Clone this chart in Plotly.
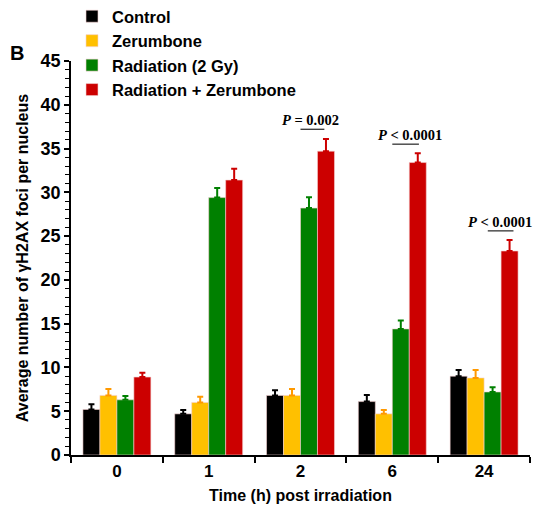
import plotly.graph_objects as go

categories = ["0", "1", "2", "6", "24"]
series_names = ["Control", "Zerumbone", "Radiation (2 Gy)", "Radiation + Zerumbone"]
control = [5.2, 4.7, 6.8, 6.1, 9.0]
control_err = [0.6, 0.45, 0.6, 0.75, 0.7]
zerumbone = [6.8, 6.0, 6.8, 4.7, 8.8]
zerumbone_err = [0.75, 0.65, 0.75, 0.45, 0.9]
radiation = [6.3, 29.4, 28.2, 14.4, 7.2]
radiation_err = [0.45, 1.1, 1.25, 0.95, 0.55]
rad_zer = [8.9, 31.4, 34.7, 33.4, 23.3]
rad_zer_err = [0.5, 1.3, 1.4, 1.05, 1.25]
p_labels = ["<b><i>P</i> = 0.002</b>", "<b><i>P</i> < 0.0001</b>", "<b><i>P</i> < 0.0001</b>"]
p_groups = [2, 3, 4]
p_line_y = [37.2, 35.5, 25.6]

bar_colors = ["#000000", "#FFC000", "#008000", "#CC0000"]
err_colors = ["#000000", "#FF9900", "#008000", "#CC0000"]
values = [control, zerumbone, radiation, rad_zer]
errors = [control_err, zerumbone_err, radiation_err, rad_zer_err]

xpos = list(range(len(categories)))
fig = go.Figure()
for name, v, e, c, ec in zip(series_names, values, errors, bar_colors, err_colors):
    fig.add_trace(go.Bar(
        x=xpos, y=v, name=name,
        marker=dict(color=c, line=dict(color="#f4d0d0", width=0.6)),
        error_y=dict(type="data", array=e, arrayminus=[0]*len(e), symmetric=False,
                     color=ec, thickness=2, width=3),
    ))

bargap = 0.26
p_line_x0 = [0.0, 0.0, 0.04]
p_line_x1 = [0.26, 0.29, 0.32]
p_text_dx = [0.11, 0.19, 0.17]
for g, lab, ly, x0, x1, dx in zip(p_groups, p_labels, p_line_y, p_line_x0, p_line_x1, p_text_dx):
    fig.add_shape(type="line", x0=g + x0, x1=g + x1, y0=ly, y1=ly,
                  line=dict(color="#333333", width=1.3), xref="x", yref="y")
    fig.add_annotation(x=g + dx, y=ly, text=lab, showarrow=False, yanchor="bottom",
                       yshift=-1, font=dict(family="Liberation Serif", size=14.5, color="black"))

W, L, T, B = 537, 71, 61, 57
pw = W - L - 7
ph = 512 - T - B
fig.add_annotation(text="<b>B</b>", x=(17 - L) / pw, y=(455 - 53) / ph, xref="paper", yref="paper",
                   xanchor="center", yanchor="middle",
                   showarrow=False, font=dict(family="Liberation Sans", size=20, color="black"))

fig.update_layout(
    width=537, height=512,
    margin=dict(l=L, r=7, t=T, b=B, autoexpand=False),
    paper_bgcolor="white", plot_bgcolor="white",
    barmode="group", bargap=bargap, bargroupgap=0,
    font=dict(family="Liberation Sans", color="black"),
    showlegend=True,
    legend=dict(x=(72 - L) / pw, y=(455 + 1) / ph, xanchor="left", yanchor="top",
                font=dict(family="Liberation Sans", size=16.5, color="black", weight="bold"),
                tracegroupgap=0, itemwidth=30, bgcolor="rgba(0,0,0,0)"),
    xaxis=dict(
        range=[-0.5, 4.5], tickmode="array", tickvals=xpos, ticktext=categories,
        ticks="", showline=True, linecolor="black", linewidth=1.5, showgrid=False, zeroline=False,
        tickfont=dict(size=17, family="Liberation Sans", weight="bold"),
        minor=dict(tickmode="linear", tick0=0.5, dtick=1, ticks="outside", ticklen=6,
                   tickwidth=1.5, tickcolor="black", showgrid=False),
        title=dict(text="<b>Time (h) post irradiation</b>", font=dict(size=16), standoff=10),
    ),
    yaxis=dict(
        range=[0, 45], tickmode="linear", tick0=0, dtick=5,
        ticks="outside", ticklen=5, tickwidth=1.5, tickcolor="black",
        showline=True, linecolor="black", linewidth=1.5, showgrid=False, zeroline=False,
        tickfont=dict(size=18, family="Liberation Sans", weight="bold"),
        minor=dict(dtick=1, ticks="outside", ticklen=4, tickwidth=1, tickcolor="black", showgrid=False),
        title=dict(text="<b>Average number of γH2AX foci per nucleus</b>", font=dict(size=16), standoff=8),
    ),
)

fig.write_html("out.html", config={"displayModeBar": False},
               post_script="document.body.style.margin='0';")
